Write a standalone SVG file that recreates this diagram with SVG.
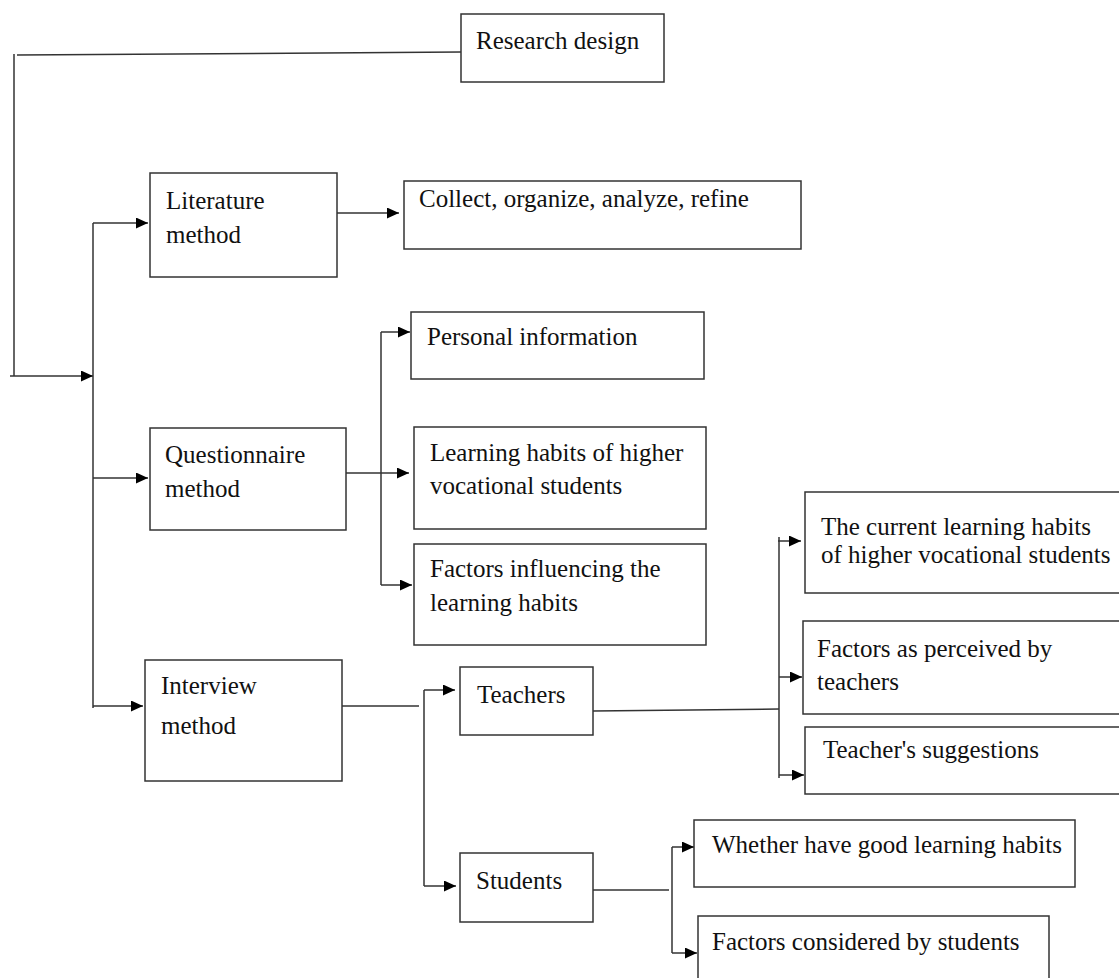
<svg xmlns="http://www.w3.org/2000/svg" width="1119" height="978" viewBox="0 0 1119 978">
<style>
.box{fill:#fff;stroke:#333;stroke-width:1.5}
.ln{fill:none;stroke:#333;stroke-width:1.5}
.ar{fill:none;stroke:#333;stroke-width:1.5;marker-end:url(#ah)}
text{font-family:"Liberation Serif","Times New Roman",serif;font-size:25px;fill:#111}
</style>
<defs>
<marker id="ah" markerUnits="userSpaceOnUse" markerWidth="13" markerHeight="11" refX="12" refY="5.5" orient="auto">
<path d="M0,0 L12,5.5 L0,11 z" fill="#000"/>
</marker>
</defs>
<rect width="1119" height="978" fill="#fff"/>
<g id="connectors">
<path class="ln" d="M17,55 L461,52"/>
<path class="ln" d="M14,54 L14,376"/>
<path class="ar" d="M10,376 L93,376"/>
<path class="ln" d="M93,223 L93,708"/>
<path class="ar" d="M93,223 L148,223"/>
<path class="ar" d="M93,478 L148,478"/>
<path class="ar" d="M93,706 L143,706"/>
<path class="ar" d="M337,213 L399,213"/>
<path class="ar" d="M346,473 L409,473"/>
<path class="ln" d="M381,332 L381,585"/>
<path class="ar" d="M381,332 L410,332"/>
<path class="ar" d="M381,585 L412,585"/>
<path class="ln" d="M342,706 L419,706"/>
<path class="ln" d="M424,690 L424,886"/>
<path class="ar" d="M424,690 L455,690"/>
<path class="ar" d="M424,886 L456,886"/>
<path class="ln" d="M593,711 L779,709"/>
<path class="ln" d="M779,537 L779,778"/>
<path class="ar" d="M778,541 L801,541"/>
<path class="ar" d="M779,677 L802,677"/>
<path class="ar" d="M779,775 L804,775"/>
<path class="ln" d="M593,890 L669,890"/>
<path class="ln" d="M672,847 L672,953"/>
<path class="ar" d="M672,847 L694,847"/>
<path class="ar" d="M672,953 L697,953"/>
</g>
<g id="research-design"><rect class="box" x="461" y="14" width="203" height="68"/><text x="476" y="49">Research design</text></g>
<g id="literature-method"><rect class="box" x="150" y="173" width="187" height="104"/><text x="166" y="209">Literature</text><text x="166" y="243">method</text></g>
<g id="collect"><rect class="box" x="404" y="181" width="397" height="68"/><text x="419" y="207">Collect, organize, analyze, refine</text></g>
<g id="personal-information"><rect class="box" x="411" y="312" width="293" height="67"/><text x="427" y="345">Personal information</text></g>
<g id="questionnaire-method"><rect class="box" x="150" y="428" width="196" height="102"/><text x="165" y="463">Questionnaire</text><text x="165" y="497">method</text></g>
<g id="learning-habits"><rect class="box" x="414" y="427" width="292" height="102"/><text x="430" y="461">Learning habits of higher</text><text x="430" y="494">vocational students</text></g>
<g id="factors-influencing"><rect class="box" x="414" y="544" width="292" height="101"/><text x="430" y="577">Factors influencing the</text><text x="430" y="611">learning habits</text></g>
<g id="interview-method"><rect class="box" x="145" y="660" width="197" height="121"/><text x="161" y="694">Interview</text><text x="161" y="734">method</text></g>
<g id="teachers"><rect class="box" x="460" y="667" width="133" height="68"/><text x="477" y="703">Teachers</text></g>
<g id="students"><rect class="box" x="460" y="853" width="133" height="69"/><text x="476" y="889">Students</text></g>
<g id="current-habits"><rect class="box" x="805" y="492" width="330" height="101"/><text x="821" y="535">The current learning habits</text><text x="821" y="563">of higher vocational students</text></g>
<g id="factors-teachers"><rect class="box" x="803" y="621" width="330" height="93"/><text x="817" y="657">Factors as perceived by</text><text x="817" y="690">teachers</text></g>
<g id="teacher-suggestions"><rect class="box" x="805" y="727" width="330" height="67"/><text x="823" y="758">Teacher's suggestions</text></g>
<g id="good-habits"><rect class="box" x="694" y="820" width="381" height="67"/><text x="712" y="853">Whether have good learning habits</text></g>
<g id="factors-students"><rect class="box" x="698" y="916" width="351" height="80"/><text x="712" y="950">Factors considered by students</text></g>
</svg>
